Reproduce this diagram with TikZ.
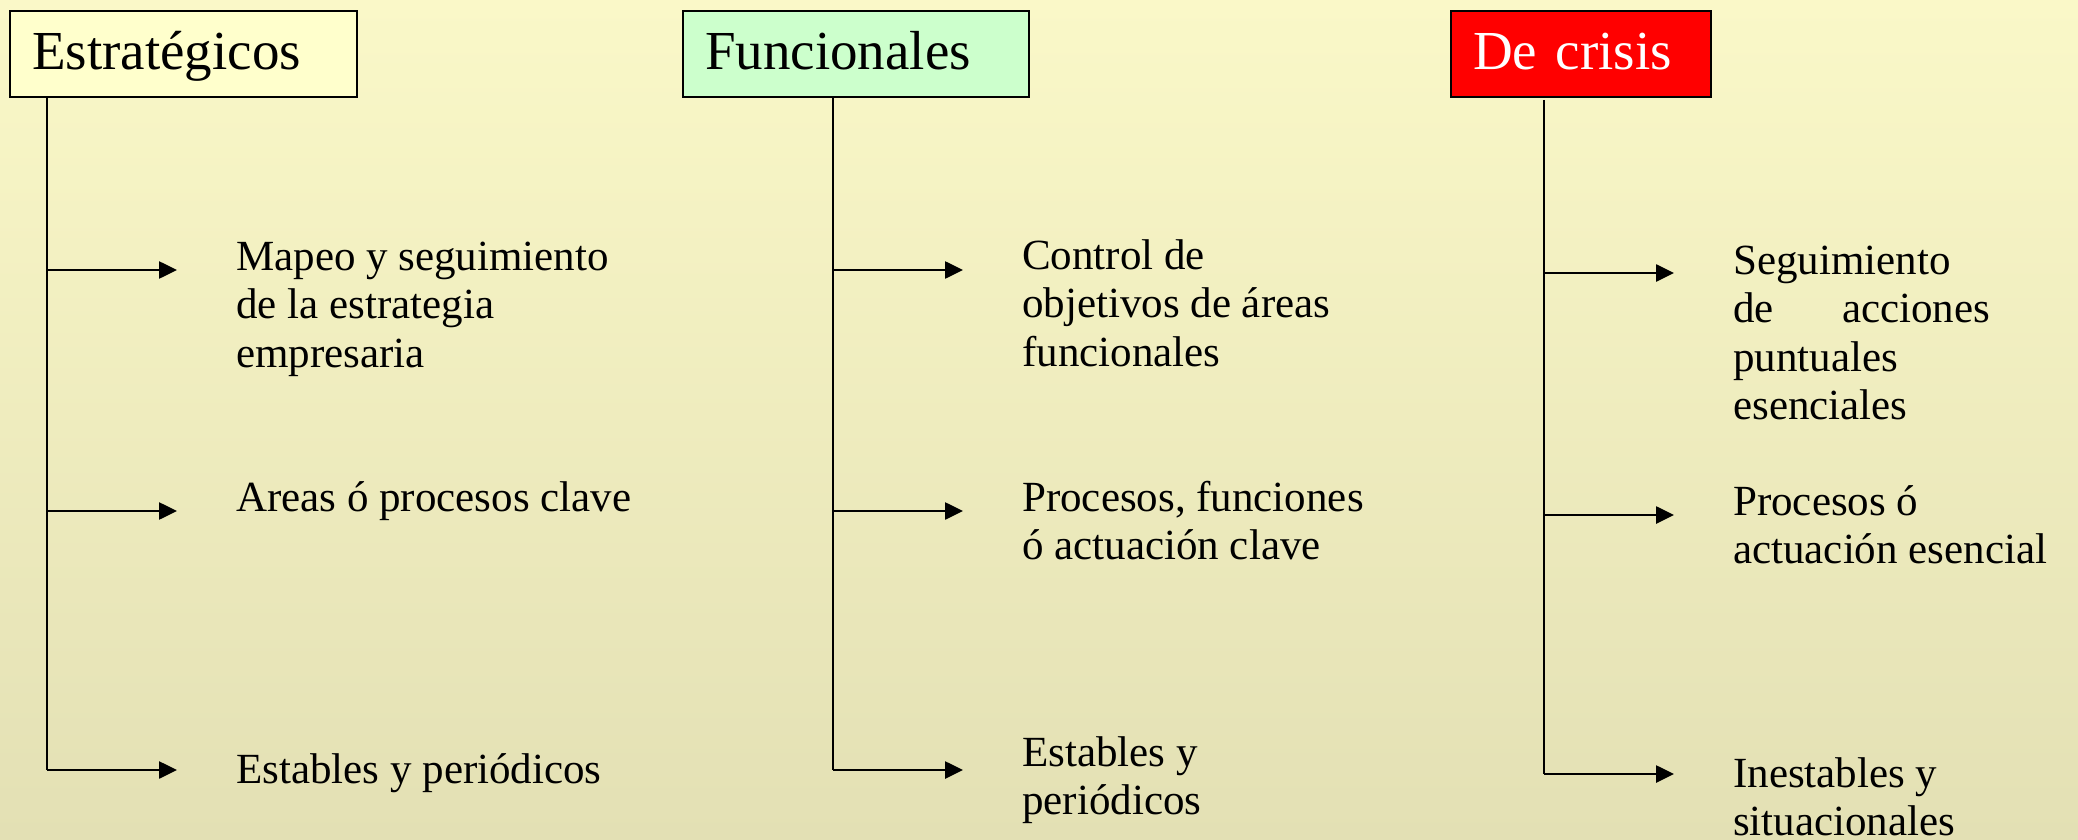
\documentclass[tikz,border=0pt]{standalone}
\usepackage{fontspec}
\setmainfont{Liberation Serif}
\usetikzlibrary{arrows.meta}
\definecolor{bgtop}{RGB}{250,248,200}
\definecolor{bgbot}{RGB}{227,224,180}
\definecolor{boxyellow}{RGB}{255,255,204}
\definecolor{boxgreen}{RGB}{204,255,204}
\definecolor{boxred}{RGB}{255,0,0}
\newcommand{\bodyfont}{\fontsize{43}{48.5}\selectfont}
\newcommand{\titlefont}{\fontsize{55}{60}\selectfont}
\begin{document}
\begin{tikzpicture}[x=1pt,y=-1pt]
\tikzset{
  headbox/.style={draw=black, line width=2.4pt, anchor=north west, inner xsep=22pt, inner ysep=0pt,
    text height=58pt, text depth=28pt, align=left, font=\titlefont},
  body/.style={anchor=base west, inner sep=0pt, font=\bodyfont},
  conn/.style={line width=2.6pt},
  arr/.style={line width=2.6pt, -{Triangle[length=18pt,width=17pt]}},
}
% background
\shade[top color=bgtop, bottom color=bgbot] (0,0) rectangle (2078,840);
\useasboundingbox (0,0) rectangle (2078,840);

% header boxes
\node[headbox, fill=boxyellow, text width=303pt] (h1) at (9,10) {Estratégicos};
\node[headbox, fill=boxgreen, text width=302pt] (h2) at (682,10) {Funcionales};
\node[headbox, fill=boxred, text=white, text width=216pt] (h3) at (1450,10) {De crisis};

% column 1
\coordinate (a11) at (47,270);  \coordinate (b11) at (177,270);
\coordinate (a12) at (47,511);  \coordinate (b12) at (177,511);
\coordinate (a13) at (47,770);  \coordinate (b13) at (177,770);
\node[body] (t11) at (236,270) {\vtop{\hbox{Mapeo y seguimiento}\hbox{de la estrategia}\hbox{empresaria}}};
\node[body] (t12) at (236,511) {Areas ó procesos clave};
\node[body] (t13) at (236,783) {Estables y periódicos};
\draw[conn] (h1.south -| a13) -- (a13);
\draw[arr] (a11) -- (b11);
\draw[arr] (a12) -- (b12);
\draw[arr] (a13) -- (b13);

% column 2
\coordinate (a21) at (833,270);  \coordinate (b21) at (963,270);
\coordinate (a22) at (833,511);  \coordinate (b22) at (963,511);
\coordinate (a23) at (833,770);  \coordinate (b23) at (963,770);
\node[body] (t21) at (1022,269) {\vtop{\hbox{Control de}\hbox{objetivos de áreas}\hbox{funcionales}}};
\node[body] (t22) at (1022,511) {\vtop{\hbox{Procesos, funciones}\hbox{ó actuación clave}}};
\node[body] (t23) at (1022,766) {\vtop{\hbox{Estables y}\hbox{periódicos}}};
\draw[conn] (h2.south -| a23) -- (a23);
\draw[arr] (a21) -- (b21);
\draw[arr] (a22) -- (b22);
\draw[arr] (a23) -- (b23);

% column 3
\coordinate (top3) at (1544,100);
\coordinate (a31) at (1544,273);  \coordinate (b31) at (1674,273);
\coordinate (a32) at (1544,515);  \coordinate (b32) at (1674,515);
\coordinate (a33) at (1544,774);  \coordinate (b33) at (1674,774);
\node[body] (t31) at (1733,274) {\vtop{\hbox{Seguimiento}\hbox to 257pt{de\hfill acciones}\hbox{puntuales}\hbox{esenciales}}};
\node[body] (t32) at (1733,515) {\vtop{\hbox{Procesos ó}\hbox{actuación esencial}}};
\node[body] (t33) at (1733,787) {\vtop{\hbox{Inestables y}\hbox{situacionales}}};
\draw[conn] (top3) -- (a33);
\draw[arr] (a31) -- (b31);
\draw[arr] (a32) -- (b32);
\draw[arr] (a33) -- (b33);
\end{tikzpicture}
\end{document}
